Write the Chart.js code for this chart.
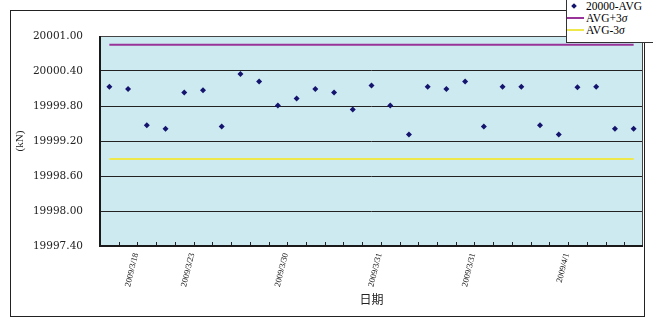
<!DOCTYPE html>
<html>
<head>
<meta charset="utf-8">
<script src="https://cdn.jsdelivr.net/npm/chart.js@4/dist/chart.umd.min.js"></script>
<style>
  html, body { margin: 0; padding: 0; background: #fff; overflow: hidden; }
  #wrap { position: relative; width: 653px; height: 326px; overflow: hidden; }
  #legend {
    position: absolute; left: 566px; top: -1px; width: 100px; height: 44px;
    background: #fff; border: 1px solid #333; box-sizing: border-box;
    font-family: "Liberation Serif", "Times New Roman", serif; font-size: 11.5px; color: #000;
  }
  .row { position: absolute; left: 0; height: 12px; line-height: 12px; white-space: nowrap; }
  .row .txt { position: absolute; left: 19px; top: 0; }
  .mk { position: absolute; left: 5px; top: 4px; width: 4px; height: 4px; background: #14146e; transform: rotate(45deg); }
  .ln { position: absolute; left: 0px; top: 5px; width: 17px; height: 2px; }
</style>
</head>
<body>
<div id="wrap">
  <canvas id="c" width="653" height="326"></canvas>
  <div id="legend">
    <div class="row" style="top:0px"><span class="mk"></span><span class="txt">20000-AVG</span></div>
    <div class="row" style="top:12px"><span class="ln" style="background:#993399"></span><span class="txt">AVG+3<i>σ</i></span></div>
    <div class="row" style="top:24px"><span class="ln" style="background:#efe84a"></span><span class="txt">AVG-3<i>σ</i></span></div>
  </div>
</div>
<script>
// Date labels shown under the axis (blank where no label is printed)
const tickLabels = [
  '', '2009/3/18', '', '', '2009/3/23', '', '', '', '', '2009/3/30',
  '', '', '', '', '2009/3/31', '', '', '', '', '2009/3/31',
  '', '', '', '', '2009/4/1', '', '', '', ''
];

// Measured load values (kN)
const loadValues = [
  20000.13, 20000.09, 19999.47, 19999.41, 20000.03, 20000.07, 19999.45, 20000.35, 20000.22, 19999.81,
  19999.93, 20000.09, 20000.03, 19999.74, 20000.15, 19999.81, 19999.31, 20000.13, 20000.09, 20000.22,
  19999.45, 20000.13, 20000.13, 19999.47, 19999.31, 20000.12, 20000.13, 19999.41, 19999.41
];

// Control limits
const upperLimit = 20000.85;
const lowerLimit = 19998.89;

// Value-axis ticks
const yTicks = [19997.40, 19998.00, 19998.60, 19999.20, 19999.80, 20000.40, 20001.00];

const seriesNames = ['20000-AVG', 'AVG+3σ', 'AVG-3σ'];

const upperLine = tickLabels.map(() => upperLimit);
const lowerLine = tickLabels.map(() => lowerLimit);

const frame = {
  id: 'frame',
  beforeDraw(chart) {
    const { ctx, chartArea: a } = chart;
    ctx.save();
    ctx.fillStyle = '#fff';
    ctx.fillRect(0, 0, chart.width, chart.height);
    ctx.strokeStyle = '#222';
    ctx.lineWidth = 1;
    ctx.strokeRect(10.5, 10.5, 634, 306);
    ctx.fillStyle = '#cdeaf0';
    ctx.fillRect(a.left, a.top, a.right - a.left, a.bottom - a.top);
    ctx.restore();
  },
  afterDatasetsDraw(chart) {
    const { ctx, chartArea: a } = chart;
    ctx.save();
    // inside tick marks on the category axis, between categories
    const n = tickLabels.length;
    const step = (a.right - a.left) / n;
    ctx.strokeStyle = '#222';
    ctx.lineWidth = 1;
    ctx.beginPath();
    for (let k = 1; k < n; k++) {
      const px = Math.round(a.left + k * step) + 0.5;
      ctx.moveTo(px, a.bottom);
      ctx.lineTo(px, a.bottom - 4);
    }
    ctx.stroke();
    // plot border
    ctx.strokeStyle = '#444';
    ctx.lineWidth = 1;
    ctx.beginPath();
    ctx.moveTo(a.left, a.top + 0.5);
    ctx.lineTo(a.right - 0.5, a.top + 0.5);
    ctx.lineTo(a.right - 0.5, a.bottom);
    ctx.stroke();
    ctx.strokeStyle = '#1a1a1a';
    ctx.lineWidth = 2;
    ctx.beginPath();
    ctx.moveTo(a.left, a.top);
    ctx.lineTo(a.left, a.bottom);
    ctx.lineTo(a.right, a.bottom);
    ctx.stroke();
    ctx.restore();
  }
};

new Chart(document.getElementById('c'), {
  type: 'line',
  data: {
    labels: tickLabels,
    datasets: [
      {
        label: seriesNames[0],
        data: loadValues,
        showLine: false,
        pointStyle: 'rectRot',
        pointRadius: 3,
        pointBackgroundColor: '#14146e',
        pointBorderColor: '#14146e',
        pointBorderWidth: 0,
        order: 0
      },
      {
        label: seriesNames[1],
        data: upperLine,
        borderColor: '#993399',
        borderWidth: 2,
        pointRadius: 0,
        order: 1
      },
      {
        label: seriesNames[2],
        data: lowerLine,
        borderColor: '#efe84a',
        borderWidth: 2,
        pointRadius: 0,
        order: 1
      }
    ]
  },
  options: {
    responsive: false,
    animation: false,
    layout: { padding: { left: 14, right: 10, top: 36, bottom: 19 } },
    plugins: { legend: { display: false }, tooltip: { enabled: false } },
    scales: {
      x: {
        type: 'category',
        offset: true,
        border: { display: false },
        grid: { display: false, drawTicks: false },
        ticks: {
          autoSkip: false,
          minRotation: 76,
          maxRotation: 76,
          padding: 6,
          labelOffset: 8,
          color: '#111',
          font: { family: '"Liberation Serif", serif', size: 8.5 }
        },
        title: {
          display: true,
          text: '日期',
          color: '#222',
          padding: { top: 0, bottom: 0 },
          font: { family: '"Noto Sans CJK SC", sans-serif', size: 12 }
        },
        afterFit(scale) { scale.height = 61; }
      },
      y: {
        min: 19997.4,
        max: 20001.0,
        border: { display: false },
        grid: { color: '#222', lineWidth: 1, drawTicks: false },
        afterBuildTicks(scale) { scale.ticks = yTicks.map(v => ({ value: v })); },
        ticks: {
          padding: 17,
          color: '#222',
          font: { family: '"DejaVu Serif", serif', size: 10.5 },
          callback: v => Number(v).toFixed(2)
        },
        title: {
          display: true,
          text: '(kN)',
          color: '#222',
          padding: { top: 0, bottom: 0 },
          font: { family: '"Liberation Serif", serif', size: 11 }
        },
        afterFit(scale) { scale.width = 86; }
      }
    }
  },
  plugins: [frame]
});
</script>
</body>
</html>
